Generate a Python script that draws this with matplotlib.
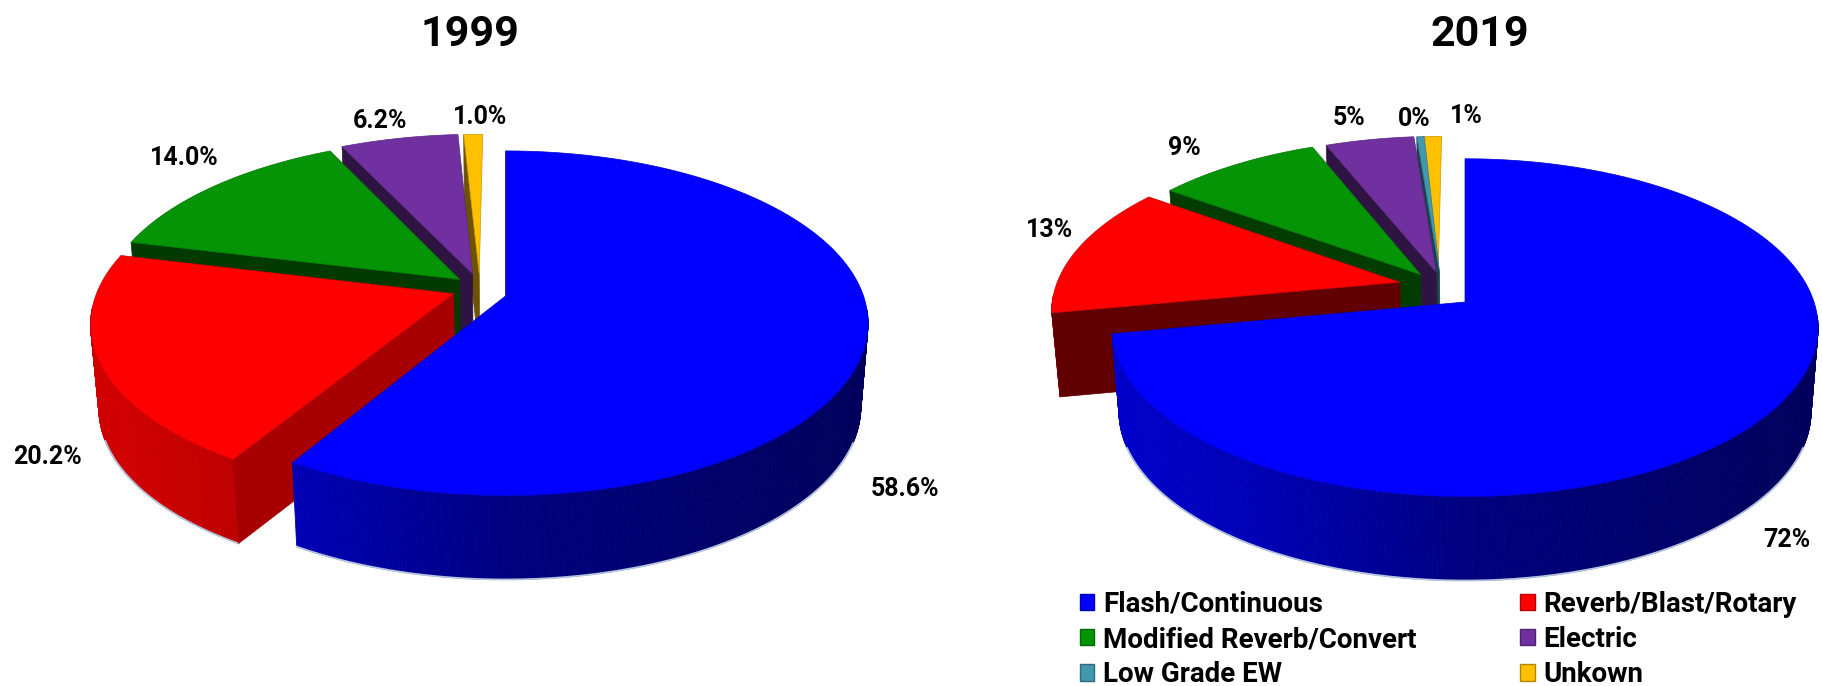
import numpy as np
import matplotlib
matplotlib.use('Agg')
from matplotlib import pyplot as plt
from matplotlib.collections import PolyCollection
from matplotlib.colors import to_rgb
from matplotlib.patches import Patch

plt.rcParams['font.family'] = 'Roboto'

# Data
categories = ['Flash/Continuous', 'Reverb/Blast/Rotary', 'Modified Reverb/Convert',
              'Electric', 'Low Grade EW', 'Unkown']
colors = ['#0000ff', '#ff0000', '#059405', '#7030a0', '#4198af', '#ffc000']
values_1999 = [58.6, 20.2, 14.0, 6.2, 0.0, 1.0]
values_2019 = [72.0, 12.9, 8.9, 4.8, 0.4, 1.0]
labels_1999 = ['58.6%', '20.2%', '14.0%', '6.2%', '', '1.0%']
labels_2019 = ['72%', '13%', '9%', '5%', '0%', '1%']

# Explosion of each slice, in units of the pie radius (sideways, backwards)
explode_1999 = [(0, 0), (-0.145, 0.014), (-0.13, 0.1), (-0.094, 0.135), (-0.08, 0.14), (-0.075, 0.135)]
explode_2019 = [(0, 0), (-0.19, 0.122), (-0.13, 0.17), (-0.085, 0.185), (-0.075, 0.185), (-0.079, 0.185)]

# Label positions in figure pixels
label_pos_1999 = [(905, 489), (48, 457), (184, 158), (380, 121), (0, 0), (480, 117)]
label_pos_2019 = [(1787, 540), (1050, 230), (1184, 148), (1349, 118), (1414, 119), (1466, 116)]


def project(u, v, pie, low=False):
    d = 1 + pie['k'] * v
    shrink = 0.98 if low else 1.0
    x = pie['cx'] + pie['sx'] * u / d * shrink
    y = pie['cy'] - pie['sy'] * v / d + (pie['depth'] if low else 0)
    return x, y


def darker(color, factor):
    return tuple(c * factor for c in to_rgb(color))


def draw_pie(ax, values, explode, pie):
    edges = np.cumsum([0] + values) / np.sum(values) * 360
    z = 1
    for i in reversed(range(len(values))):
        if values[i] == 0:
            continue
        eu, ev = explode[i]
        theta = np.radians(np.linspace(edges[i], edges[i + 1], max(int(edges[i + 1] - edges[i]) * 2, 4)))
        u = np.sin(theta) + eu
        v = np.cos(theta) + ev
        x_top, y_top = project(u, v, pie)
        x_low, y_low = project(u, v, pie, low=True)

        # outer side, shaded from left to right, only the part that faces the viewer
        front = np.cos(theta) < -pie['k'] * 0.5
        quads = []
        shades = []
        for j in range(len(theta) - 1):
            if not (front[j] and front[j + 1]):
                continue
            quads.append([(x_top[j], y_top[j]), (x_top[j + 1], y_top[j + 1]),
                          (x_low[j + 1], y_low[j + 1]), (x_low[j], y_low[j])])
            pos = (x_top[j] - pie['cx']) / pie['sx']
            fac = np.interp(pos, [-1.1, -0.55, 0, 1], [0.82, 0.7, 0.5, 0.36])
            shades.append(darker(colors[i], fac))
        if quads:
            ax.add_collection(PolyCollection(quads, facecolors=shades, edgecolors=shades, linewidths=0.6, zorder=z))
            fringe = np.cos(theta) < -0.35
            ax.plot(x_low[fringe], y_low[fringe], color='#b4c4dc', lw=1.3, zorder=z)
        z += 1

        # cut face at the start of the slice
        ax_x, ax_y = project(np.array([eu]), np.array([ev]), pie)
        bx_x, bx_y = project(np.array([eu]), np.array([ev]), pie, low=True)
        if edges[i] > 0:
            fac = np.interp(edges[i], [211, 259, 360], [0.66, 0.38, 0.43])
            ax.fill([ax_x[0], x_top[0], x_low[0], bx_x[0]], [ax_y[0], y_top[0], y_low[0], bx_y[0]],
                    color=darker(colors[i], fac), lw=0.5, zorder=z)
            z += 1

        # top surface
        ax.fill(np.r_[ax_x, x_top], np.r_[ax_y, y_top], facecolor=colors[i],
                edgecolor=darker(colors[i], 0.8), lw=0.5, zorder=z)
        z += 1
    return z


fig = plt.figure(figsize=(18.22, 6.86), dpi=100)
ax = fig.add_axes([0, 0, 1, 1])
ax.set_xlim(0, 1822)
ax.set_ylim(686, 0)
ax.axis('off')

pie_1999 = {'cx': 505.5, 'cy': 296, 'sx': 358, 'sy': 168, 'k': 0.158, 'depth': 84}
pie_2019 = {'cx': 1465, 'cy': 302, 'sx': 349, 'sy': 165, 'k': 0.152, 'depth': 84}
draw_pie(ax, values_1999, explode_1999, pie_1999)
draw_pie(ax, values_2019, explode_2019, pie_2019)

ax.text(470, 34, '1999', fontsize=31, fontweight='bold', ha='center', va='center')
ax.text(1480, 34, '2019', fontsize=31, fontweight='bold', ha='center', va='center')

for labels, positions in [(labels_1999, label_pos_1999), (labels_2019, label_pos_2019)]:
    for text, pos in zip(labels, positions):
        if text:
            ax.text(pos[0], pos[1], text, fontsize=18, fontweight='bold', ha='center', va='center', zorder=50)

# Legend fills by column
order = [0, 2, 4, 1, 3, 5]
handles = [Patch(facecolor=colors[i], edgecolor=darker(colors[i], 0.7), lw=1) for i in order]
leg = ax.legend(handles, [categories[i] for i in order], ncol=2, frameon=False,
                loc='lower left', bbox_to_anchor=(1055 / 1822, -0.04),
                prop={'weight': 'bold', 'size': 20},
                handlelength=0.52, handleheight=0.52, handletextpad=0.3,
                labelspacing=0.3, columnspacing=3.75)
leg.set_zorder(60)

fig.savefig('out.png', dpi=100)
